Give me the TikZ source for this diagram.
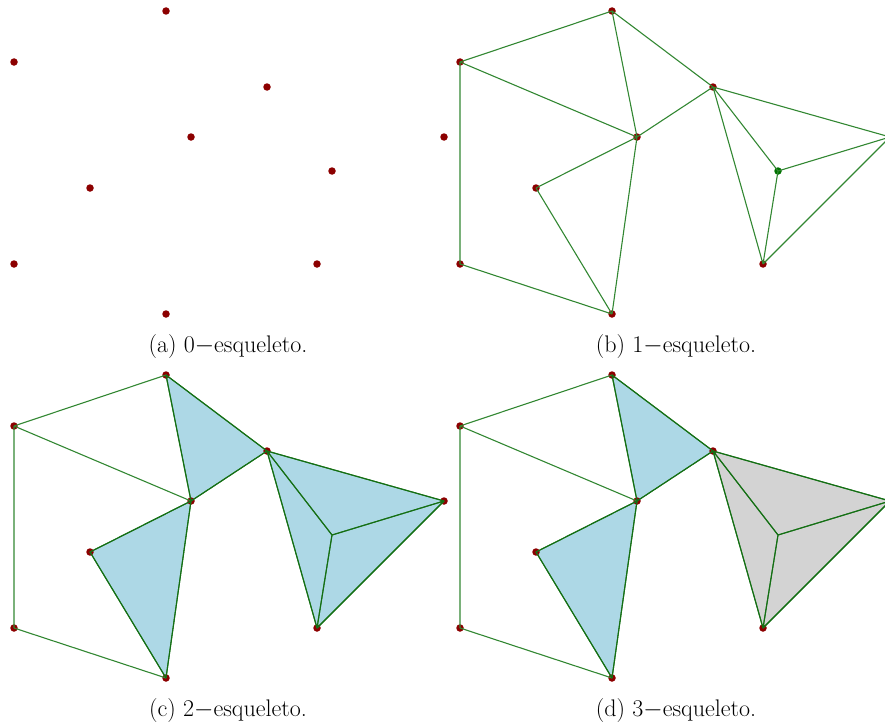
\documentclass[tikz,border=0pt]{standalone}
\usepackage{tikz}
\definecolor{edgegreen}{RGB}{50,135,50}
\definecolor{darkedge}{RGB}{20,110,20}
\definecolor{dotred}{RGB}{140,0,0}
\definecolor{dotgreen}{RGB}{0,115,0}
\definecolor{faceblue}{RGB}{173,216,230}
\definecolor{facegray}{RGB}{211,211,211}
\newcommand\setpts[3]{%
  \coordinate (#1A) at (166+#2,11+#3);
  \coordinate (#1B) at (14+#2,62+#3);
  \coordinate (#1C) at (267+#2,87+#3);
  \coordinate (#1D) at (191+#2,137+#3);
  \coordinate (#1E) at (90+#2,188+#3);
  \coordinate (#1F) at (332+#2,171+#3);
  \coordinate (#1G) at (14+#2,264+#3);
  \coordinate (#1H) at (317+#2,264+#3);
  \coordinate (#1I) at (166+#2,314+#3);
  \coordinate (#1J) at (444+#2,137+#3);
}
\newcommand\mydots[1]{%
  \foreach \v in {A,B,C,D,E,G,H,I,J} \node[vdot] (#1dot\v) at (#1\v) {};
}
\newcommand\myedges[1]{%
  \draw[edge] (#1B) -- (#1A) -- (#1D) (#1A) -- (#1C) (#1B) -- (#1D) (#1B) -- (#1G)
    (#1C) -- (#1D) (#1D) -- (#1E) (#1D) -- (#1I) (#1E) -- (#1I) (#1G) -- (#1I)
    (#1C) -- (#1F) (#1C) -- (#1J) (#1C) -- (#1H) (#1F) -- (#1J) (#1F) -- (#1H) (#1H) -- (#1J);
}
\tikzset{
  vdot/.style={circle,fill=dotred,inner sep=0pt,minimum size=7.5pt},
  gdot/.style={circle,fill=dotgreen,inner sep=0pt,minimum size=7.5pt},
  edge/.style={draw=edgegreen,line width=1.1pt},
  captxt/.style={font=\fontsize{24}{28}\selectfont,inner sep=0pt}
}
\begin{document}
\begin{tikzpicture}[x=1pt,y=-1pt]
\useasboundingbox (0,0) rectangle (885,725);
\clip (0,0) rectangle (885,725);
% panel a
\setpts{a}{0}{0}
\mydots{a}
\node[vdot] (adotF) at (aF) {};
\node[captxt] (capa) at (228,347) {(a) 0$-$esqueleto.};
% panel b
\setpts{b}{446}{0}
\mydots{b}
\node[gdot] (bdotF) at (bF) {};
\myedges{b}
\node[captxt] (capb) at (676,347) {(b) 1$-$esqueleto.};
% panel c
\setpts{c}{0}{364}
\fill[faceblue] (cA) -- (cC) -- (cD) -- cycle;
\fill[faceblue] (cD) -- (cE) -- (cI) -- cycle;
\fill[faceblue] (cC) -- (cJ) -- (cH) -- cycle;
\mydots{c}
\myedges{c}
\draw[darkedge,line width=1.1pt,line join=round] (cA) -- (cC) -- (cD) -- cycle (cD) -- (cE) -- (cI) -- cycle
  (cC) -- (cJ) -- (cH) -- cycle (cC) -- (cF) -- (cJ) (cF) -- (cH);
\node[captxt] (capc) at (228,711) {(c) 2$-$esqueleto.};
% panel d
\setpts{d}{446}{364}
\fill[faceblue] (dA) -- (dC) -- (dD) -- cycle;
\fill[faceblue] (dD) -- (dE) -- (dI) -- cycle;
\fill[facegray] (dC) -- (dJ) -- (dH) -- cycle;
\mydots{d}
\myedges{d}
\draw[darkedge,line width=1.1pt,line join=round] (dA) -- (dC) -- (dD) -- cycle (dD) -- (dE) -- (dI) -- cycle
  (dC) -- (dJ) -- (dH) -- cycle (dC) -- (dF) -- (dJ) (dF) -- (dH);
\node[captxt] (capd) at (676,711) {(d) 3$-$esqueleto.};
\end{tikzpicture}
\end{document}
